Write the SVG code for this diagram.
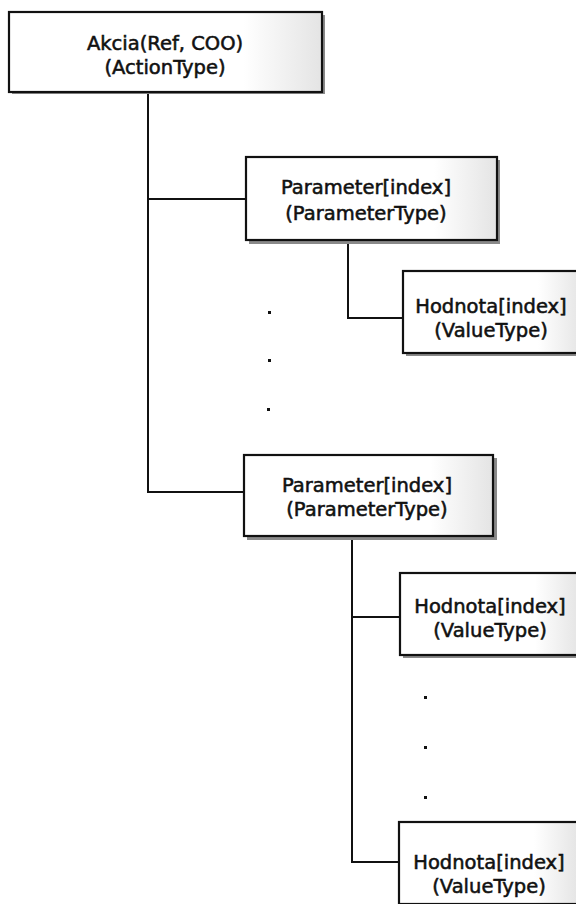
<svg xmlns="http://www.w3.org/2000/svg" width="576" height="904" viewBox="0 0 576 904">
<style>
.box{fill:url(#g);stroke:#111;stroke-width:2.2}
.sh{fill:#8a8a8a}
.t{font-family:"DejaVu Sans",Verdana,sans-serif;font-size:19.5px;fill:#111;text-anchor:middle;stroke:#111;stroke-width:0.55}
.c{fill:none;stroke:#111;stroke-width:2}
.dot{fill:#111}
</style>
<defs>
<linearGradient id="g" x1="0" y1="0" x2="1" y2="0">
<stop offset="0" stop-color="#fff"/>
<stop offset="0.75" stop-color="#fff"/>
<stop offset="1" stop-color="#e4e4e4"/>
</linearGradient>
</defs>
<g id="connectors">
<polyline class="c" points="148,92 148,492 244,492"/>
<line class="c" x1="148" y1="199" x2="247" y2="199"/>
<polyline class="c" points="348,240 348,318 403,318"/>
<polyline class="c" points="352,536 352,862 399,862"/>
<line class="c" x1="352" y1="617" x2="400" y2="617"/>
</g>
<g id="dots">
<rect class="dot" x="268" y="311" width="3" height="3"/>
<rect class="dot" x="268" y="359" width="3" height="3"/>
<rect class="dot" x="267" y="408" width="3" height="3"/>
<rect class="dot" x="424" y="696" width="3" height="3"/>
<rect class="dot" x="424" y="746" width="3" height="3"/>
<rect class="dot" x="424" y="796" width="3" height="3"/>
</g>
<g id="akcia">
<rect class="sh" x="12" y="15" width="313" height="79"/>
<rect class="box" x="9" y="12" width="313" height="80"/>
<text class="t" x="165" y="50">Akcia(Ref, COO)</text>
<text class="t" x="165" y="74">(ActionType)</text>
</g>
<g id="param1">
<rect class="sh" x="249" y="160" width="251" height="84"/>
<rect class="box" x="246" y="157" width="251" height="83"/>
<text class="t" x="366" y="194">Parameter[index]</text>
<text class="t" x="366" y="220">(ParameterType)</text>
</g>
<g id="value1">
<rect class="sh" x="406" y="274" width="180" height="82"/>
<rect class="box" x="403" y="271" width="180" height="82"/>
<text class="t" x="491" y="313">Hodnota[index]</text>
<text class="t" x="491" y="337">(ValueType)</text>
</g>
<g id="param2">
<rect class="sh" x="247" y="458" width="250" height="82"/>
<rect class="box" x="244" y="455" width="249" height="81"/>
<text class="t" x="367" y="492">Parameter[index]</text>
<text class="t" x="367" y="516">(ParameterType)</text>
</g>
<g id="value2">
<rect class="sh" x="403" y="576" width="180" height="82"/>
<rect class="box" x="400" y="573" width="180" height="82"/>
<text class="t" x="490" y="613">Hodnota[index]</text>
<text class="t" x="490" y="637">(ValueType)</text>
</g>
<g id="value3">
<rect class="sh" x="402" y="825" width="180" height="82"/>
<rect class="box" x="399" y="822" width="180" height="82"/>
<text class="t" x="489" y="869">Hodnota[index]</text>
<text class="t" x="489" y="893">(ValueType)</text>
</g>
</svg>
